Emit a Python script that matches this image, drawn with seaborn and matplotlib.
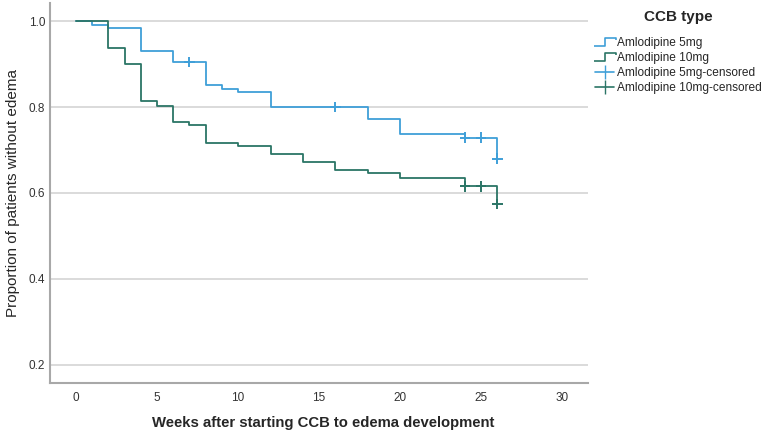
import numpy as np
import pandas as pd
import seaborn as sns
import matplotlib.pyplot as plt
from matplotlib.lines import Line2D
from matplotlib.path import Path

# Kaplan-Meier step values
weeks_5mg = [0, 1, 2, 4, 6, 8, 9, 10, 12, 18, 20, 24, 26]
surv_5mg = [1.0, 0.992, 0.983, 0.931, 0.905, 0.852, 0.843, 0.835, 0.800, 0.773, 0.737, 0.729, 0.680]
weeks_10mg = [0, 2, 3, 4, 5, 6, 7, 8, 10, 12, 14, 16, 18, 20, 24, 26]
surv_10mg = [1.0, 0.938, 0.901, 0.815, 0.802, 0.764, 0.758, 0.716, 0.709, 0.691, 0.671, 0.653, 0.647, 0.634, 0.615, 0.574]

cens_weeks_5mg = [7, 16, 24, 25, 26]
cens_surv_5mg = [0.905, 0.800, 0.729, 0.729, 0.680]
cens_weeks_10mg = [24, 25, 26]
cens_surv_10mg = [0.615, 0.615, 0.574]

groups = ["Amlodipine 5mg", "Amlodipine 10mg"]
colors = {"Amlodipine 5mg": "#3f9fd8", "Amlodipine 10mg": "#2b7566"}

df = pd.concat([
    pd.DataFrame({"week": weeks_5mg, "surv": surv_5mg, "group": groups[0]}),
    pd.DataFrame({"week": weeks_10mg, "surv": surv_10mg, "group": groups[1]}),
])
cens = pd.concat([
    pd.DataFrame({"week": cens_weeks_5mg, "surv": cens_surv_5mg, "group": groups[0]}),
    pd.DataFrame({"week": cens_weeks_10mg, "surv": cens_surv_10mg, "group": groups[1]}),
])

sns.set_style("white")
plt.rcParams['font.family'] = ['Liberation Sans', 'DejaVu Sans']

fig = plt.figure(figsize=(7.7, 4.36), dpi=100)
ax = fig.add_axes([0.065, 0.122, 0.699, 0.871])

sns.lineplot(data=df, x="week", y="surv", hue="group", palette=colors, estimator=None,
             drawstyle="steps-post", linewidth=1.3, legend=False, ax=ax, zorder=3)
sns.scatterplot(data=cens, x="week", y="surv", hue="group", palette=colors, marker="+",
                s=55, linewidth=1.4, legend=False, ax=ax, zorder=4)

ax.set_xlim(-1.6, 31.6)
ax.set_ylim(0.158, 1.042)
ax.set_xticks([0, 5, 10, 15, 20, 25, 30])
ax.set_yticks([0.2, 0.4, 0.6, 0.8, 1.0])
ax.set_yticklabels(["0.2", "0.4", "0.6", "0.8", "1.0"])
ax.tick_params(length=0, labelsize=8.5, labelcolor="#333333")
ax.tick_params(axis="x", pad=6.5)
ax.tick_params(axis="y", pad=3.5)
ax.yaxis.grid(True, color="#d4d4d4", linewidth=1.2)
ax.xaxis.grid(False)
for s in ["top", "right"]:
    ax.spines[s].set_visible(False)
for s in ["left", "bottom"]:
    ax.spines[s].set_color("#a8a8a8")
    ax.spines[s].set_linewidth(1.5)

ax.set_xlabel("Weeks after starting CCB to edema development", fontsize=10.7,
              fontweight="bold", va="center")
ax.xaxis.set_label_coords(0.507, -0.105)
ax.set_ylabel("Proportion of patients without edema", fontsize=11, va="center")
ax.yaxis.set_label_coords(-0.069, 0.5)

step = Path([(-1, -0.35), (0, -0.35), (0, 0.35), (1, 0.35), (1, 0.15)],
            [Path.MOVETO, Path.LINETO, Path.LINETO, Path.LINETO, Path.LINETO])
handles = [
    Line2D([], [], linestyle="none", marker=step, markersize=16, markeredgewidth=1.2,
           markerfacecolor="none", markeredgecolor=colors[groups[0]]),
    Line2D([], [], linestyle="none", marker=step, markersize=16, markeredgewidth=1.2,
           markerfacecolor="none", markeredgecolor=colors[groups[1]]),
    Line2D([], [], color=colors[groups[0]], marker="|", markersize=10, linewidth=1.2),
    Line2D([], [], color=colors[groups[1]], marker="|", markersize=10, linewidth=1.2),
]
labels = ["Amlodipine 5mg", "Amlodipine 10mg", "Amlodipine 5mg-censored", "Amlodipine 10mg-censored"]
fig.text(678 / 770, 1 - 17 / 436, "CCB type", fontsize=11, fontweight="bold",
         ha="center", va="center")
leg = fig.legend(handles, labels, loc="upper left", bbox_to_anchor=(0.759, 0.939),
                 frameon=False, fontsize=8.6, handlelength=1.6,
                 handletextpad=0.2, labelspacing=0.25, numpoints=1)

fig.savefig("out.png", dpi=100)
